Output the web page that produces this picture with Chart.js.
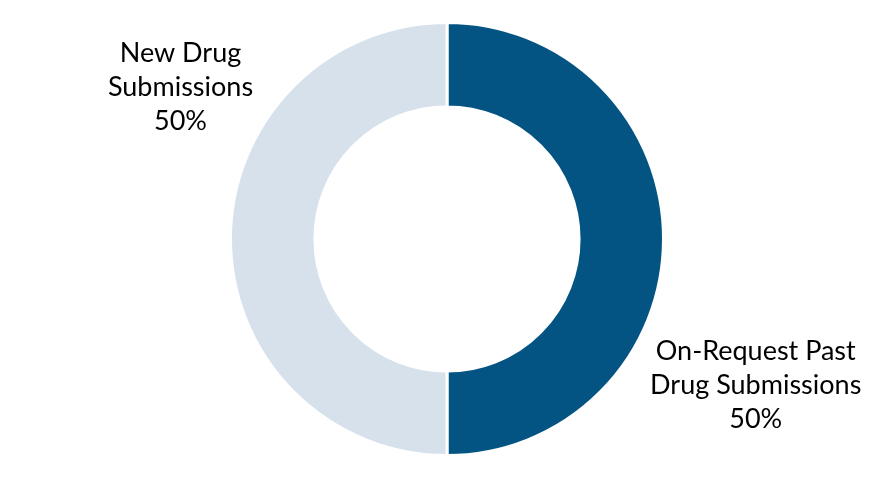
<!DOCTYPE html>
<html>
<head>
<meta charset="utf-8">
<script src="https://cdn.jsdelivr.net/npm/chart.js@4.4.0/dist/chart.umd.min.js"></script>
<style>
    html, body { margin: 0; padding: 0; background: #fff; }
    #wrap { width: 894px; height: 480px; }
</style>
</head>
<body>
<div id="wrap"><canvas id="chart"></canvas></div>
<script>
    // Data
    const categories = ["On-Request Past Drug Submissions", "New Drug Submissions"];
    const shares = [50, 50];
    const labelLines = [
        ["On-Request Past", "Drug Submissions", "50%"],
        ["New Drug", "Submissions", "50%"]
    ];
    const sliceColors = ["#035482", "#d7e1ec"];

    // Draw the outside labels next to each slice
    const outsideLabels = {
        id: "outsideLabels",
        afterDatasetsDraw(chart) {
            const ctx = chart.ctx;
            const arc = chart.getDatasetMeta(0).data[0];
            const cx = arc.x, cy = arc.y, r = arc.outerRadius;
            // offsets of the middle line, relative to the outer radius
            const spots = [
                { dx: 1.426, dy: 0.676 },
                { dx: -1.231, dy: -0.70 }
            ];
            ctx.save();
            ctx.font = "27px Lato, 'Open Sans', sans-serif";
            ctx.fillStyle = "#000";
            ctx.textAlign = "center";
            ctx.textBaseline = "middle";
            labelLines.forEach((lines, i) => {
                const x = cx + spots[i].dx * r;
                const y = cy + spots[i].dy * r;
                lines.forEach((line, j) => {
                    ctx.fillText(line, x, y + (j - 1) * 34);
                });
            });
            ctx.restore();
        }
    };

    new Chart(document.getElementById("chart"), {
        type: "doughnut",
        data: {
            labels: categories,
            datasets: [{
                data: shares,
                backgroundColor: sliceColors,
                borderColor: "#ffffff",
                borderWidth: 3
            }]
        },
        options: {
            responsive: true,
            maintainAspectRatio: false,
            animation: false,
            cutout: "61%",
            layout: { padding: { top: 21, bottom: 23 } },
            plugins: {
                legend: { display: false },
                tooltip: { enabled: false }
            }
        },
        plugins: [outsideLabels]
    });
</script>
</body>
</html>
